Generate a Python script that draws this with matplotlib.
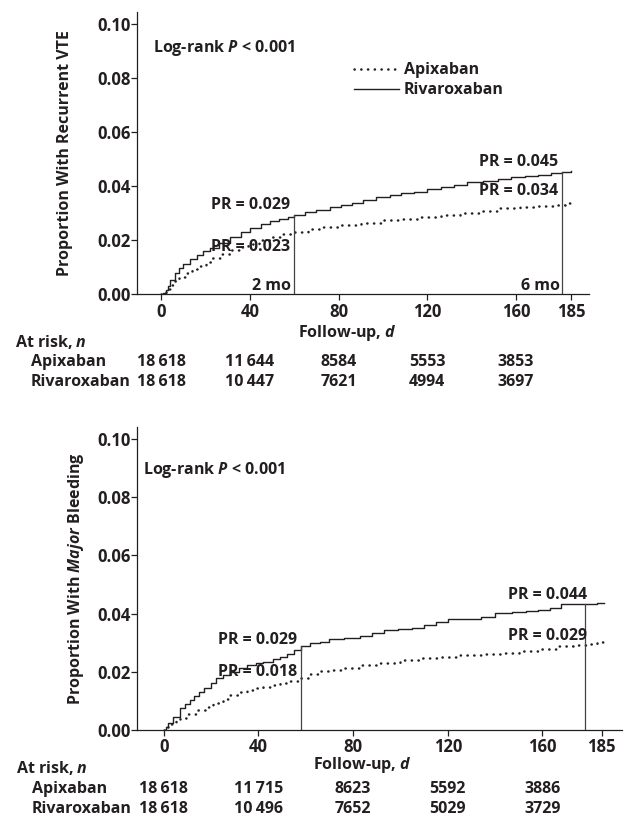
""" Cumulative incidence of recurrent VTE and major bleeding, apixaban vs rivaroxaban
"""
import numpy as np
import matplotlib
matplotlib.use('Agg')
import matplotlib.pyplot as plt
from matplotlib.transforms import blended_transform_factory

plt.rcParams['font.family'] = ['Open Sans', 'DejaVu Sans']
plt.rcParams['font.weight'] = 'bold'
plt.rcParams['axes.labelweight'] = 'bold'
plt.rcParams['font.size'] = 11.5
plt.rcParams['mathtext.fontset'] = 'custom'
plt.rcParams['mathtext.rm'] = 'Open Sans:bold'
plt.rcParams['mathtext.it'] = 'Open Sans:italic:bold'
plt.rcParams['mathtext.bf'] = 'Open Sans:bold'

INK = '#231f20'
FS = 11.5

# Recurrent VTE (days, cumulative proportion)
vte_riva_t = [0, 1, 2, 3, 4, 6, 8, 10, 13, 16, 19, 22, 26, 31, 36, 40, 45, 49, 53, 57, 60,
              65, 70, 76, 81, 86, 91, 97, 103, 108, 114, 120, 126, 132, 138, 145, 152, 158,
              164, 170, 176, 181, 185]
vte_riva_v = [0, 0.0005, 0.0015, 0.003, 0.0053, 0.0078, 0.0096, 0.0112, 0.013, 0.0145, 0.016,
              0.017, 0.019, 0.0213, 0.023, 0.0246, 0.026, 0.0271, 0.028, 0.0285, 0.0293,
              0.0303, 0.0313, 0.0322, 0.0329, 0.0337, 0.0348, 0.0358, 0.0366, 0.0374, 0.038,
              0.0388, 0.0398, 0.0406, 0.0414, 0.042, 0.0428, 0.0433, 0.0438, 0.0443, 0.0449,
              0.0454, 0.0456]
vte_apix_t = [0, 2, 4, 6, 8, 11, 14, 17, 20, 23, 27, 31, 35, 39, 44, 49, 54, 60, 66, 73, 80,
              90, 100, 108, 116, 126, 135, 145, 153, 162, 170, 177, 182, 186]
vte_apix_v = [0, 0.002, 0.0035, 0.005, 0.0063, 0.008, 0.0092, 0.0105, 0.0118, 0.0133, 0.015,
              0.0164, 0.0175, 0.0185, 0.02, 0.0213, 0.0222, 0.023, 0.024, 0.0248, 0.0255,
              0.0265, 0.0273, 0.0279, 0.0285, 0.0293, 0.03, 0.0309, 0.0318, 0.0324, 0.0328,
              0.0332, 0.0336, 0.0338]

# Major bleeding
bld_riva_t = [0, 1, 2, 4, 7, 9, 11, 13, 15, 17, 20, 22, 25, 28, 32, 35, 39, 42, 46, 49, 52,
              55, 58, 62, 66, 70, 76, 83, 88, 93, 99, 105, 110, 115, 120, 127, 134, 140, 147,
              153, 158, 163, 168, 179, 183, 186]
bld_riva_v = [0, 0.001, 0.0025, 0.0046, 0.0075, 0.009, 0.0103, 0.0118, 0.0132, 0.0146, 0.016,
              0.0178, 0.019, 0.02, 0.0212, 0.0222, 0.0231, 0.0235, 0.0243, 0.0252, 0.0262,
              0.0275, 0.029, 0.0298, 0.0303, 0.0312, 0.0316, 0.0323, 0.0333, 0.0344, 0.0348,
              0.0352, 0.0361, 0.0372, 0.038, 0.0383, 0.0387, 0.0403, 0.0407, 0.041, 0.0412,
              0.042, 0.0433, 0.0433, 0.0437, 0.0437]
bld_apix_t = [0, 1, 3, 5, 7, 10, 14, 18, 21, 25, 28, 32, 35, 39, 42, 46, 49, 53, 58, 62, 66,
              70, 76, 83, 90, 100, 108, 117, 125, 134, 142, 150, 158, 167, 173, 179, 183, 186]
bld_apix_v = [0, 0.001, 0.0022, 0.0032, 0.004, 0.0055, 0.0069, 0.008, 0.0092, 0.0106, 0.012,
              0.013, 0.0137, 0.0143, 0.0149, 0.0155, 0.016, 0.0168, 0.018, 0.0192, 0.0201,
              0.0205, 0.0213, 0.0223, 0.0231, 0.024, 0.0246, 0.0252, 0.0256, 0.026, 0.0265,
              0.0273, 0.028, 0.0289, 0.0292, 0.0296, 0.0302, 0.0309]

# landmark days (2 mo, 6 mo) and the PR values printed there
vte_marks = [60, 181]
bld_marks = [58, 178]
vte_pr_riva = ['0.029', '0.045']
vte_pr_apix = ['0.023', '0.034']
bld_pr_riva = ['0.029', '0.044']
bld_pr_apix = ['0.018', '0.029']

x_ticks = [0, 40, 80, 120, 160, 185]
y_ticks = [0.0, 0.02, 0.04, 0.06, 0.08, 0.10]

risk_days = [0, 40, 80, 120, 160]
vte_risk_apix = [18618, 11644, 8584, 5553, 3853]
vte_risk_riva = [18618, 10447, 7621, 4994, 3697]
bld_risk_apix = [18618, 11715, 8623, 5592, 3886]
bld_risk_riva = [18618, 10496, 7652, 5029, 3729]

W, H = 624, 817


def fy(py):
    return 1 - py / H


def fmt_n(n):
    # thin space for thousands only on 5-digit numbers
    if n >= 10000:
        return '{:,}'.format(n).replace(',', '\u2009')
    return str(n)


def step_at(t, v, day):
    i = np.searchsorted(t, day, side='right') - 1
    return v[i]


def draw_panel(ax, apix_t, apix_v, riva_t, riva_v, marks, pr_riva, pr_apix,
               ylabel, xlim, ylim, logrank_xy, pr_pos, mark_text, legend):
    ax.plot(apix_t, apix_v, drawstyle='steps-post', color=INK, lw=1.8,
            linestyle=(0, (0.1, 2.6)), dash_capstyle='round', label='Apixaban')
    ax.plot(riva_t, riva_v, drawstyle='steps-post', color=INK, lw=1.0,
            label='Rivaroxaban')
    for m in marks:
        top = step_at(np.array(riva_t), np.array(riva_v), m)
        ax.plot([m, m], [0, top], color='#444444', lw=0.9)

    ax.set_xlim(*xlim)
    ax.set_ylim(*ylim)
    ax.set_xticks(x_ticks)
    ax.set_yticks(y_ticks)
    ax.set_yticklabels(['{:.2f}'.format(y) for y in y_ticks])
    for s in ['top', 'right']:
        ax.spines[s].set_visible(False)
    for s in ['left', 'bottom']:
        ax.spines[s].set_color(INK)
        ax.spines[s].set_linewidth(0.9)
    ax.tick_params(axis='both', colors=INK, labelsize=FS + 0.5, length=4, width=0.9)
    ax.tick_params(axis='x', pad=2)
    ax.tick_params(axis='y', pad=0.5)
    ax.set_ylabel(ylabel, fontsize=FS, color=INK)

    ax.text(logrank_xy[0], logrank_xy[1], 'Log-rank $P$ < 0.001', fontsize=FS,
            color=INK, va='center', ha='left')

    for (x, y), lab in zip(pr_pos, pr_riva + pr_apix):
        ax.text(x, y, 'PR = ' + lab, fontsize=FS, color=INK, ha='right', va='center')
    for x, y, lab in mark_text:
        ax.text(x, y, lab, fontsize=FS, color=INK, ha='right', va='center')

    if legend:
        leg = ax.legend(loc='upper left', bbox_to_anchor=(0.48, 0.822), frameon=False,
                        handlelength=2.8, handletextpad=0.3, labelspacing=0.25,
                        borderpad=0, borderaxespad=0, fontsize=FS)
        for t in leg.get_texts():
            t.set_fontweight('bold')
            t.set_color(INK)


def risk_table(fig, ax, label_x, rows_py, apix, riva, xlab_py):
    tr = blended_transform_factory(ax.transData, fig.transFigure)
    fig.text(label_x / W, fy(rows_py[0]), 'At risk, $n$', fontsize=FS, color=INK,
             va='center', ha='left')
    fig.text((label_x + 16) / W, fy(rows_py[1]), 'Apixaban', fontsize=FS, color=INK,
             va='center', ha='left')
    fig.text((label_x + 16) / W, fy(rows_py[2]), 'Rivaroxaban', fontsize=FS, color=INK,
             va='center', ha='left')
    for d, a, r in zip(risk_days, apix, riva):
        ax.text(d, fy(rows_py[1]), fmt_n(a), transform=tr, fontsize=FS, color=INK,
                ha='center', va='center')
        ax.text(d, fy(rows_py[2]), fmt_n(r), transform=tr, fontsize=FS, color=INK,
                ha='center', va='center')
    ax.text(84, fy(xlab_py), 'Follow-up, $d$', transform=tr, fontsize=FS, color=INK,
            ha='center', va='center')


fig = plt.figure(figsize=(W / 100, H / 100), dpi=100)

ax1 = fig.add_axes([137.3 / W, fy(294.3), (589 - 137.3) / W, (294.3 - 12) / H])
draw_panel(ax1, vte_apix_t, vte_apix_v, vte_riva_t, vte_riva_v, vte_marks,
           vte_pr_riva, vte_pr_apix, 'Proportion With Recurrent VTE',
           (-10.8, 193), (0, 0.1044), (-3.7, 0.0911),
           [(58, 0.033), (179, 0.0488), (58, 0.0175), (179, 0.0383)],
           [(58.5, 0.0031, '2 mo'), (179.8, 0.0031, '6 mo')], True)
ax1.yaxis.set_label_coords(-0.142, 0.5)
risk_table(fig, ax1, 15, [341.7, 361.7, 381.7], vte_risk_apix, vte_risk_riva, 333)

ax2 = fig.add_axes([137.3 / W, fy(730), (622 - 137.3) / W, (730 - 427) / H])
draw_panel(ax2, bld_apix_t, bld_apix_v, bld_riva_t, bld_riva_v, bld_marks,
           bld_pr_riva, bld_pr_apix, 'Proportion With $Major$ Bleeding',
           (-11.15, 193.6), (0, 0.1041), (-8.7, 0.0893),
           [(56.3, 0.0309), (179, 0.0464), (56.3, 0.0199), (179, 0.0323)],
           [], False)
ax2.yaxis.set_label_coords(-0.106, 0.5)
risk_table(fig, ax2, 16, [768, 789, 809], bld_risk_apix, bld_risk_riva, 765)

fig.savefig('out.png', dpi=100)
